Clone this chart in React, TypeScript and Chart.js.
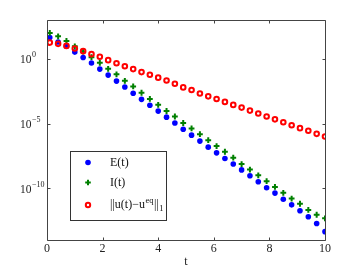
import React, { useEffect, useRef } from 'react';
import { Chart, registerables } from 'chart.js';

Chart.register(...registerables);

// ---- data ----
const tValues = [
  0.1, 0.4, 0.7, 1.0, 1.3, 1.6, 1.9, 2.2, 2.5, 2.8, 3.1, 3.4, 3.7, 4.0, 4.3, 4.6, 4.9,
  5.2, 5.5, 5.8, 6.1, 6.4, 6.7, 7.0, 7.3, 7.6, 7.9, 8.2, 8.5, 8.8, 9.1, 9.4, 9.7, 10.0,
];
const energyE = [
  4.5e1, 2.0e1, 9.5e0, 3.3e0, 1.25e0, 4.7e-1, 1.6e-1, 5.5e-2, 1.9e-2, 6.6e-3, 2.2e-3, 7.4e-4,
  2.6e-4, 9.1e-5, 3.1e-5, 1.1e-5, 3.6e-6, 1.26e-6, 4.4e-7, 1.5e-7, 5.4e-8, 2.0e-8, 7.4e-9,
  2.6e-9, 9.3e-10, 3.2e-10, 1.1e-10, 4.2e-11, 1.4e-11, 5.2e-12, 1.8e-12, 6.3e-13, 1.9e-13, 4.4e-14,
];
const infoI = [
  1.0e2, 5.5e1, 2.4e1, 9.3e0, 3.6e0, 1.35e0, 4.9e-1, 1.7e-1, 6.3e-2, 2.0e-2, 7.4e-3, 2.4e-3,
  7.9e-4, 2.8e-4, 9.3e-5, 3.5e-5, 1.1e-5, 4.2e-6, 1.5e-6, 5.2e-7, 1.8e-7, 6.6e-8, 2.3e-8,
  7.4e-9, 2.75e-9, 1.0e-9, 3.5e-10, 1.26e-10, 4.4e-11, 1.6e-11, 6.3e-12, 2.1e-12, 8.9e-13, 4.7e-13,
];
const l1Distance = [
  1.8e1, 1.43e1, 1.0e1, 6.2e0, 3.9e0, 2.3e0, 1.43e0, 7.9e-1, 4.6e-1, 2.7e-1, 1.6e-1, 9.4e-2,
  5.9e-2, 3.5e-2, 2.1e-2, 1.2e-2, 6.2e-3, 3.9e-3, 2.1e-3, 1.26e-3, 7.9e-4, 4.7e-4, 2.75e-4,
  1.7e-4, 1.0e-4, 5.9e-5, 3.5e-5, 2.1e-5, 1.26e-5, 7.4e-6, 4.4e-6, 2.75e-6, 1.6e-6, 1.0e-6,
];
const xTickValues = [0, 2, 4, 6, 8, 10];
const yTickValues = [1e-10, 1e-5, 1];
const yTickBase = '10';
const yTickExponents = ['−10', '−5', '0'];
const seriesLabels = ['E(t)', 'I(t)', '||u(t)−u', 'eq', '||', '1'];
const xTitle = 't';

const FONT = "'Liberation Serif', 'Times New Roman', serif";
const BLUE = '#0000ff';
const GREEN = '#008000';
const RED = '#ff0000';
const AXIS = '#444444';
const TEXT = '#222222';

const toPoints = (ys: number[]) => ys.map((y, i) => ({ x: tValues[i], y }));

const boxTicksPlugin = {
  id: 'boxTicks',
  afterDraw(chart: any) {
    const { ctx, chartArea: a, scales } = chart;
    const L = Math.round(a.left) + 0.5;
    const R = Math.round(a.right) + 0.5;
    const T = Math.round(a.top) + 0.5;
    const B = Math.round(a.bottom) + 0.5;
    ctx.save();
    ctx.strokeStyle = AXIS;
    ctx.lineWidth = 1;
    ctx.beginPath();
    ctx.rect(L, T, R - L, B - T);
    const len = 3;
    xTickValues.forEach((v) => {
      const px = Math.round(scales.x.getPixelForValue(v)) + 0.5;
      ctx.moveTo(px, B);
      ctx.lineTo(px, B - len);
      ctx.moveTo(px, T);
      ctx.lineTo(px, T + len);
    });
    yTickValues.forEach((v) => {
      const py = Math.round(scales.y.getPixelForValue(v)) + 0.5;
      ctx.moveTo(L, py);
      ctx.lineTo(L + len, py);
      ctx.moveTo(R, py);
      ctx.lineTo(R - len, py);
    });
    ctx.stroke();

    // y tick labels: "10" with a raised exponent, left-aligned at the scale's left edge
    ctx.fillStyle = TEXT;
    ctx.textAlign = 'left';
    ctx.textBaseline = 'middle';
    const lx = scales.y.left;
    yTickValues.forEach((v, i) => {
      const py = scales.y.getPixelForValue(v) + 1.5;
      ctx.font = `11.5px ${FONT}`;
      ctx.fillText(yTickBase, lx, py);
      const w = ctx.measureText(yTickBase).width;
      ctx.font = `8px ${FONT}`;
      ctx.fillText(yTickExponents[i], lx + w + 0.5, py - 5);
    });
    ctx.restore();
  },
};

const legendPlugin = {
  id: 'customLegend',
  afterDraw(chart: any) {
    const { ctx } = chart;
    const bx = 70.5, by = 151.5, bw = 96, bh = 69;
    ctx.save();
    ctx.fillStyle = '#ffffff';
    ctx.fillRect(bx, by, bw, bh);
    ctx.strokeStyle = '#333333';
    ctx.lineWidth = 1;
    ctx.strokeRect(bx, by, bw, bh);

    const mx = 88;
    const rows = [162.5, 182.5, 205];
    ctx.fillStyle = BLUE;
    ctx.beginPath();
    ctx.arc(mx, rows[0], 2.8, 0, Math.PI * 2);
    ctx.fill();
    ctx.strokeStyle = GREEN;
    ctx.lineWidth = 2;
    ctx.beginPath();
    ctx.moveTo(mx - 2.8, rows[1]);
    ctx.lineTo(mx + 2.8, rows[1]);
    ctx.moveTo(mx, rows[1] - 2.8);
    ctx.lineTo(mx, rows[1] + 2.8);
    ctx.stroke();
    ctx.strokeStyle = RED;
    ctx.lineWidth = 2;
    ctx.beginPath();
    ctx.arc(mx, rows[2], 2.2, 0, Math.PI * 2);
    ctx.stroke();

    ctx.fillStyle = '#111111';
    ctx.textBaseline = 'middle';
    ctx.textAlign = 'left';
    const main = `12px ${FONT}`;
    const small = `8.5px ${FONT}`;
    const tx = 110;
    ctx.font = main;
    ctx.fillText(seriesLabels[0], tx, rows[0]);
    ctx.fillText(seriesLabels[1], tx, rows[1]);
    let x = tx;
    ctx.fillText(seriesLabels[2], x, rows[2]);
    x += ctx.measureText(seriesLabels[2]).width;
    ctx.font = small;
    ctx.fillText(seriesLabels[3], x + 0.5, rows[2] - 4.5);
    x += ctx.measureText(seriesLabels[3]).width + 1;
    ctx.font = main;
    ctx.fillText(seriesLabels[4], x, rows[2]);
    x += ctx.measureText(seriesLabels[4]).width;
    ctx.font = small;
    ctx.fillText(seriesLabels[5], x + 0.5, rows[2] + 4);
    ctx.restore();
  },
};

export default function App() {
  const canvasRef = useRef<HTMLCanvasElement | null>(null);

  useEffect(() => {
    if (!canvasRef.current) return;
    const chart = new Chart(canvasRef.current, {
      type: 'scatter',
      data: {
        datasets: [
          {
            label: 'E(t)',
            data: toPoints(energyE),
            pointStyle: 'circle',
            pointRadius: 2.8,
            pointBackgroundColor: BLUE,
            pointBorderColor: BLUE,
            pointBorderWidth: 0,
            order: 3,
          },
          {
            label: 'I(t)',
            data: toPoints(infoI),
            pointStyle: 'cross',
            pointRadius: 2.9,
            pointBorderColor: GREEN,
            pointBackgroundColor: GREEN,
            pointBorderWidth: 2,
            order: 2,
          },
          {
            label: '||u(t)-u^eq||_1',
            data: toPoints(l1Distance),
            pointStyle: 'circle',
            pointRadius: 2.3,
            pointBorderColor: RED,
            pointBackgroundColor: 'rgba(255,255,255,0)',
            pointBorderWidth: 2,
            order: 1,
          },
        ],
      },
      options: {
        responsive: false,
        animation: false,
        devicePixelRatio: 1,
        layout: { padding: { left: 20, right: 35, top: 20, bottom: 0 } },
        plugins: {
          legend: { display: false },
          tooltip: { enabled: false },
          title: { display: false },
        },
        scales: {
          x: {
            type: 'linear',
            min: 0,
            max: 10,
            afterBuildTicks: (scale: any) => {
              scale.ticks = xTickValues.map((v) => ({ value: v }));
            },
            afterFit: (scale: any) => {
              scale.height = 31;
            },
            grid: { display: false, drawTicks: false },
            border: { display: false },
            ticks: {
              padding: 2,
              color: TEXT,
              font: { family: FONT, size: 12 },
              maxRotation: 0,
              callback: (v: any) => String(v),
            },
            title: {
              display: true,
              text: xTitle,
              color: TEXT,
              font: { family: FONT, size: 12 },
              padding: { top: 0, bottom: 2 },
            },
          },
          y: {
            type: 'logarithmic',
            min: 1e-14,
            max: 1e3,
            afterBuildTicks: (scale: any) => {
              scale.ticks = yTickValues.map((v) => ({ value: v }));
            },
            afterFit: (scale: any) => {
              scale.width = 27;
            },
            grid: { display: false, drawTicks: false },
            border: { display: false },
            ticks: {
              display: false,
            },
          },
        },
      },
      plugins: [boxTicksPlugin, legendPlugin],
    } as any);
    return () => chart.destroy();
  }, []);

  return (
    <div style={{ position: 'absolute', left: 0, top: 0, width: 360, height: 271, background: '#ffffff' }}>
      <canvas ref={canvasRef} width={360} height={271} style={{ display: 'block', width: 360, height: 271 }} />
    </div>
  );
}
